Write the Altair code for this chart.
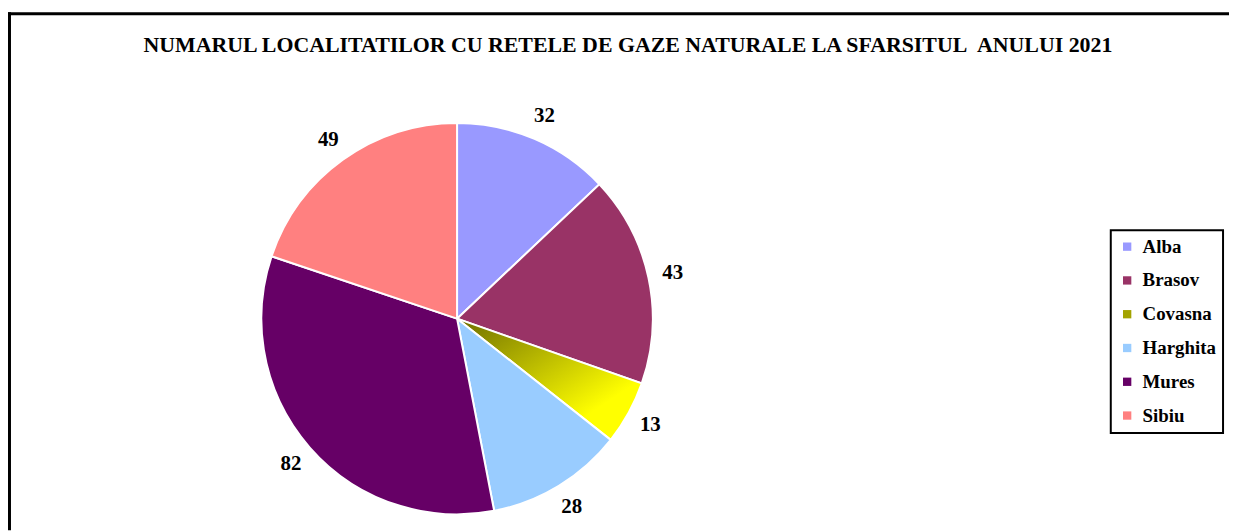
import altair as alt
import pandas as pd

categories = ["Alba", "Brasov", "Covasna", "Harghita", "Mures", "Sibiu"]
values = [32, 43, 13, 28, 82, 49]
colors = ["#9999FF", "#993366", "#A3A300", "#99CCFF", "#660066", "#FF8080"]
title_text = "NUMARUL LOCALITATILOR CU RETELE DE GAZE NATURALE LA SFARSITUL\u00a0 ANULUI 2021"

df = pd.DataFrame({"judet": categories, "valoare": values, "ord": list(range(len(categories)))})

W, H = 1229, 524
CX, CY, R = 452, 311, 197
FONT = "Liberation Serif"

gradient = {
    "gradient": "linear",
    "x1": 0, "y1": 0, "x2": 1, "y2": 1,
    "stops": [
        {"offset": 0, "color": "#6E6E00"},
        {"offset": 0.75, "color": "#FFFF00"},
        {"offset": 1, "color": "#FFFF00"},
    ],
}

base = alt.Chart(df).encode(
    theta=alt.Theta("valoare:Q", stack=True),
    order=alt.Order("ord:Q"),
)

pie = base.mark_arc(radius=R, stroke="white", strokeWidth=2).encode(
    x=alt.value(CX),
    y=alt.value(CY),
    fill=alt.condition(
        "datum.judet == 'Covasna'",
        alt.value(gradient),
        alt.Fill(
            "judet:N",
            sort=categories,
            scale=alt.Scale(domain=categories, range=colors),
            legend=alt.Legend(
                title=None,
                orient="none",
                legendX=1110,
                legendY=222,
                symbolType="square",
                symbolSize=70,
                symbolStrokeWidth=0,
                labelFont=FONT,
                labelFontSize=19,
                labelFontWeight="bold",
                labelColor="black",
                labelOffset=6,
                rowPadding=14,
                padding=7,
                strokeColor="black",
            ),
        ),
    ),
)

labels = base.mark_text(
    radius=222, font=FONT, fontSize=21, fontWeight="bold", color="black"
).encode(
    x=alt.value(CX),
    y=alt.value(CY),
    text=alt.Text("valoare:Q"),
)

title = alt.Chart(pd.DataFrame({"t": [title_text]})).mark_text(
    font=FONT, fontSize=22, fontWeight="bold", color="black", align="center", baseline="middle"
).encode(x=alt.value(624), y=alt.value(36), text="t:N")

left_border = alt.Chart(pd.DataFrame({"a": [0]})).mark_rule(
    color="black", strokeWidth=3
).encode(x=alt.value(1.5), y=alt.value(2.5), y2=alt.value(H))

top_border = alt.Chart(pd.DataFrame({"a": [0]})).mark_rule(
    color="black", strokeWidth=3
).encode(x=alt.value(0), x2=alt.value(W), y=alt.value(4))

chart = (
    alt.layer(pie, labels, title, left_border, top_border)
    .properties(width=W, height=H, autosize=alt.AutoSizeParams(type="none"), padding=0)
    .configure_view(stroke=None)
    .configure_legend(strokeWidth=2)
)

chart.save("out.html", embed_options={"renderer": "svg", "actions": False})
